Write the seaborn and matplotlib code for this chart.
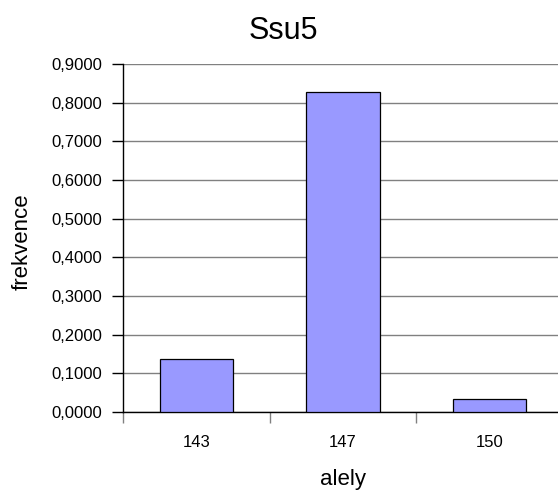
import pandas as pd
import matplotlib.pyplot as plt
import seaborn as sns
from matplotlib.ticker import FuncFormatter, FixedLocator

# allele frequencies
alleles = ['143', '147', '150']
freqs = [0.137, 0.827, 0.034]

df = pd.DataFrame({'alely': alleles, 'frekvence': freqs})

sns.set_style('white')
plt.rcParams['font.family'] = ['Liberation Sans', 'DejaVu Sans']
plt.rcParams['text.color'] = 'black'
plt.rcParams['axes.labelcolor'] = 'black'
plt.rcParams['xtick.color'] = 'black'
plt.rcParams['ytick.color'] = 'black'

fig = plt.figure(figsize=(5.58, 4.95), dpi=100)
ax = fig.add_axes([123 / 558, 1 - 412 / 495, 440 / 558, 348 / 495])

sns.barplot(data=df, x='alely', y='frekvence', color='#9999FF', saturation=1,
            width=0.5, edgecolor='black', linewidth=0.9, ax=ax, zorder=3)

ax.set_ylim(0, 0.9)
ax.set_xlim(-0.5, 2.5)
ax.set_yticks([i / 10 for i in range(10)])
ax.yaxis.set_major_formatter(FuncFormatter(lambda v, p: f'{v:.4f}'.replace('.', ',')))
ax.yaxis.grid(True, color='#808080', linewidth=1.0, zorder=0)
ax.set_axisbelow(True)

# category boundaries get the ticks, labels sit in between
ax.xaxis.set_major_locator(FixedLocator([-0.5, 0.5, 1.5, 2.5]))
ax.xaxis.set_minor_locator(FixedLocator([0, 1, 2]))
ax.set_xticklabels([], minor=False)
ax.set_xticklabels(alleles, minor=True)
ax.tick_params(axis='x', which='major', direction='out', length=8, width=1,
               color='#808080', bottom=True)
ax.tick_params(axis='x', which='minor', length=0, pad=16.5, labelsize=12,
               labelcolor='black')
ax.tick_params(axis='y', direction='out', length=8, width=1, color='black',
               left=True, pad=7, labelsize=12, labelcolor='black')

for side in ['top', 'right']:
    ax.spines[side].set_visible(False)
ax.spines['left'].set_color('black')
ax.spines['bottom'].set_color('black')
ax.spines['left'].set_linewidth(1)
ax.spines['bottom'].set_linewidth(1)

ax.set_xlabel('alely', fontsize=16, color='black')
ax.set_ylabel('frekvence', fontsize=16, color='black')
ax.xaxis.set_label_coords(0.5, -0.165)
ax.yaxis.set_label_coords(-0.205, 0.49)

fig.text(283 / 558, 1 - 31 / 495, 'Ssu5', fontsize=22, ha='center', va='center',
         color='black')

plt.savefig('out.png', dpi=100)
plt.close()
